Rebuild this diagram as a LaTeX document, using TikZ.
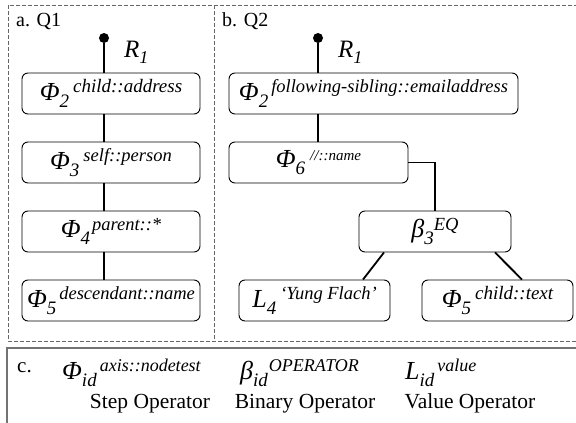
\documentclass[tikz,border=0pt]{standalone}
\usepackage{fontspec}
\setmainfont{Liberation Serif}
% operator label: symbol, subscript, superscript size, gap, superscript
\newcommand\opsym[5]{%
  {\fontsize{26}{26}\selectfont\itshape #1}%
  \raisebox{-7pt}{\fontsize{19}{19}\selectfont\itshape #2}%
  \hspace{#4}%
  \raisebox{7.5pt}{\fontsize{#3}{#3}\selectfont\itshape #5}}
\newcommand\rootlabel{%
  {\fontsize{25}{25}\selectfont\itshape R}%
  \raisebox{-6pt}{\fontsize{18}{18}\selectfont\itshape 1}}
\begin{document}
\begin{tikzpicture}[x=1pt,y=-1pt,
  opbox/.style={draw, rounded corners=6pt, line width=0.9pt,
    minimum height=41pt, inner sep=0pt},
  link/.style={line width=1.8pt},
  frame/.style={draw=black!60, dash pattern=on 4pt off 2pt, line width=0.8pt},
  legendframe/.style={draw=black!55, line width=1.3pt},
  rootdot/.style={circle, fill=black, inner sep=0pt, minimum size=10pt},
  caption/.style={anchor=base west, inner sep=0pt, font=\fontsize{20}{20}\selectfont},
  legendtext/.style={anchor=base, inner sep=0pt, font=\fontsize{21.5}{21.5}\selectfont}]
\useasboundingbox (0,0) rectangle (576,423);
\clip (0,0) rectangle (576,423);

% panel frames
\draw[frame] (8,5) rectangle (590,341);
\draw[frame] (214,5) -- (214,341);
\draw[legendframe] (7,348) rectangle (590,440);

% panel a: Q1
\node[caption] (capa) at (16,27) {a. Q1};
\node[rootdot] (ra) at (104,38) {};
\node[anchor=base west, inner sep=0pt] (rla) at (124,57) {\rootlabel};
\node[opbox, minimum width=178pt] (a2) at (111,93.5)
  {\opsym{Φ}{2}{19}{4pt}{child::address}};
\node[opbox, minimum width=178pt] (a3) at (111,162.5)
  {\opsym{Φ}{3}{18.5}{4pt}{self::person}};
\node[opbox, minimum width=178pt] (a4) at (111,231.5)
  {\opsym{Φ}{4}{18.5}{2pt}{parent::*}};
\node[opbox, minimum width=178pt] (a5) at (111,300.5)
  {\opsym{Φ}{5}{18.5}{3pt}{descendant::name}};
\draw[link] (ra) -- (ra |- a2.north);
\draw[link] (a2.south -| ra) -- (a3.north -| ra);
\draw[link] (a3.south -| ra) -- (a4.north -| ra);
\draw[link] (a4.south -| ra) -- (a5.north -| ra);

% panel b: Q2
\node[caption] (capb) at (222,27) {b. Q2};
\node[rootdot] (rb) at (318,38) {};
\node[anchor=base west, inner sep=0pt] (rlb) at (338,57) {\rootlabel};
\node[opbox, minimum width=289pt] (b2) at (373.5,93.5)
  {\opsym{Φ}{2}{18.5}{3pt}{following-sibling::emailaddress}};
\node[opbox, minimum width=179pt] (b6) at (318.5,162.5)
  {\opsym{Φ}{6}{15}{5pt}{//::name}};
\node[opbox, minimum width=152pt] (b3) at (435,231.5)
  {\opsym{β}{3}{18.5}{0pt}{EQ}};
\node[opbox, minimum width=151pt] (l4) at (314.5,300.5)
  {\opsym{L}{4}{18.5}{4pt}{‘Yung Flach’}};
\node[opbox, minimum width=151pt] (b5) at (497.5,300.5)
  {\opsym{Φ}{5}{19}{4pt}{child::text}};
\draw[link] (rb) -- (rb |- b2.north);
\draw[link] (b2.south -| rb) -- (b6.north -| rb);
\draw[link] (b6.east) -| (b3.north);
\draw[link] ([xshift=-51pt]b3.south) -- ([xshift=48.5pt]l4.north);
\draw[link] ([xshift=60pt]b3.south) -- ([xshift=24.5pt]b5.north);

% panel c: legend
\node[caption, font=\fontsize{21}{21}\selectfont] (capc) at (17,372) {c.};
\node[anchor=base west, inner sep=0pt] (kstep) at (62,379)
  {\opsym{Φ}{id}{18}{3pt}{axis::nodetest}};
\node[anchor=base west, inner sep=0pt] (kbin) at (240,379)
  {\opsym{β}{id}{18}{1pt}{OPERATOR}};
\node[anchor=base west, inner sep=0pt] (kval) at (405,379)
  {\opsym{L}{id}{18}{3pt}{value}};
\node[legendtext] (tstep) at (150,408) {Step Operator};
\node[legendtext] (tbin) at (305,408) {Binary Operator};
\node[legendtext] (tval) at (470,408) {Value Operator};
\end{tikzpicture}
\end{document}
